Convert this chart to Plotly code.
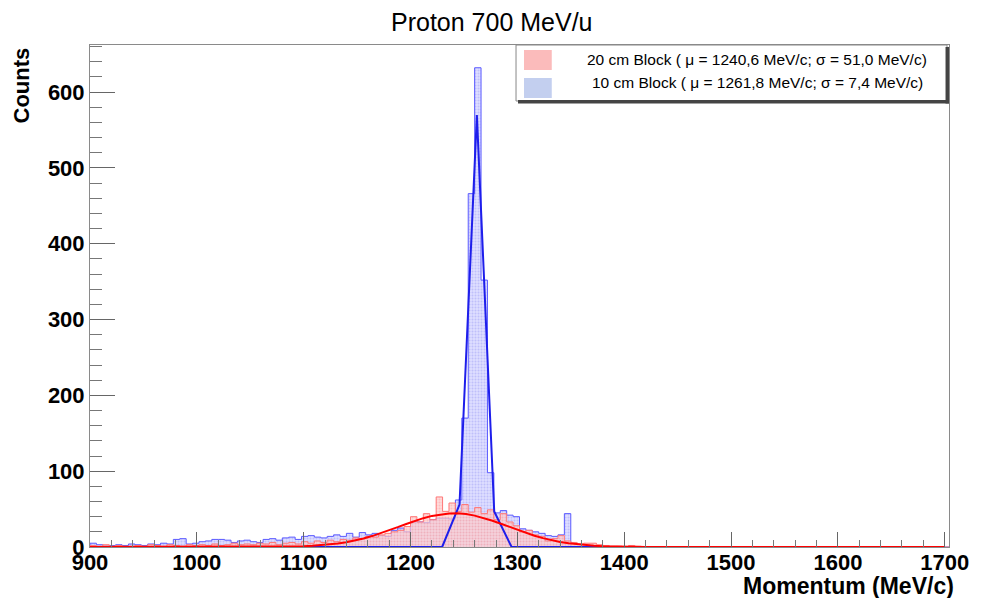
import numpy as np
import plotly.graph_objects as go

# ---------------- data ----------------
bin_start = 900.0
bin_width = 6.0
n_bins = 134

blue_counts = [5, 3, 2, 2, 3, 2, 4, 3, 2, 4,
               3, 5, 4, 10, 11, 4, 5,
               7, 8, 10, 10, 9, 6, 8,
               9, 7, 6, 10, 11, 9, 12,
               13, 10, 14, 15, 13, 12, 14,
               16, 14, 18, 13, 19, 16, 18,
               15, 14, 22, 25, 20, 33, 33,
               32, 36, 38, 38, 37,
               62, 170, 466, 632, 352, 98, 45, 48, 42, 40, 24, 22, 20, 18, 15, 14, 16, 44,
               1, 0, 1] + [0] * 56

red_counts = [2, 1, 3, 1, 2, 1, 1, 2, 1, 3,
              2, 1, 3, 2, 1, 3, 2,
              3, 2, 4, 2, 3, 5, 3,
              4, 3, 5, 4, 6, 3, 5,
              6, 4, 7, 5, 8, 6, 9,
              7, 10, 9, 12, 11, 14, 13,
              16, 18, 20,
              22, 27, 40, 33, 44, 36, 66, 47, 58, 47,
              56, 46, 52, 44, 49, 36, 44, 33, 28, 20,
              22, 16, 14, 8, 11, 15, 8, 6, 4, 5,
              5, 3, 2, 1, 1, 0, 2, 1] + [0] * 48

# Gaussian fit parameters (from legend) and fitted amplitudes
red_fit = dict(mu=1240.6, sigma=51.0, amp=44.5, xmin=900.0, xmax=1700.0, npts=101)
blue_fit = dict(mu=1261.8, sigma=7.4, amp=570.0, xmin=1099.6, xmax=1392.1, npts=19)

legend_labels = ["20 cm Block ( \u03bc = 1240,6 MeV/c; \u03c3 = 51,0 MeV/c)",
                 "10 cm Block ( \u03bc = 1261,8 MeV/c; \u03c3 = 7,4 MeV/c)"]
title_text = "Proton 700 MeV/u"
x_title = "Momentum (MeV/c)"
y_title = "Counts"

# ---------------- helpers ----------------
edges = bin_start + bin_width * np.arange(n_bins + 1)


def step(counts):
    xs = [edges[0]] + list(edges[:-1]) + [edges[-1]]
    ys = [0] + list(counts) + [counts[-1]]
    return xs, ys


def gauss(p):
    x = np.linspace(p["xmin"], p["xmax"], p["npts"])
    return x, p["amp"] * np.exp(-0.5 * ((x - p["mu"]) / p["sigma"]) ** 2)


# plot-area geometry in pixels
L, R, T, B = 90, 955, 45, 547
W, H = 981, 598


def xp(px):
    return (px - L) / (R - L)


def yp(py):
    return (B - py) / (B - T)


FONT = "Liberation Sans, Arial, Helvetica, sans-serif"

fig = go.Figure()

bx, by = step(blue_counts)
fig.add_trace(go.Scatter(
    x=bx, y=by, mode="lines", line=dict(shape="hv", color="rgb(90,90,255)", width=1),
    fill="tozeroy", fillcolor="rgba(205,205,255,0.75)",
    fillpattern=dict(shape=".", fgcolor="rgba(130,130,240,0.7)", bgcolor="rgba(210,210,255,0.75)",
                     size=3, solidity=0.35),
    showlegend=False, hoverinfo="skip"))

rx, ry = step(red_counts)
fig.add_trace(go.Scatter(
    x=rx, y=ry, mode="lines", line=dict(shape="hv", color="rgb(255,120,120)", width=1),
    fill="tozeroy", fillcolor="rgba(255,200,200,0.7)",
    fillpattern=dict(shape=".", fgcolor="rgba(245,120,120,0.6)", bgcolor="rgba(255,205,205,0.7)",
                     size=3, solidity=0.35),
    showlegend=False, hoverinfo="skip"))

gx, gy = gauss(blue_fit)
fig.add_trace(go.Scatter(x=gx, y=gy, mode="lines", line=dict(color="rgb(30,30,235)", width=2),
                         showlegend=False, hoverinfo="skip"))
gx, gy = gauss(red_fit)
fig.add_trace(go.Scatter(x=gx, y=gy, mode="lines", line=dict(color="rgb(255,0,0)", width=2),
                         showlegend=False, hoverinfo="skip"))

axis_common = dict(showgrid=False, zeroline=False, showline=True, linecolor="#8a8a8a", linewidth=1,
                   mirror=True, ticks="inside", tickcolor="#666", tickwidth=1)

fig.update_xaxes(range=[900, 1704], tick0=900, dtick=100, ticklen=15, ticklabelstandoff=-4,
                 tickfont=dict(family=FONT, size=22, color="black", weight="bold"),
                 minor=dict(dtick=20, ticks="inside", ticklen=7, tickcolor="#777", tickwidth=1),
                 **axis_common)
fig.update_yaxes(range=[0, 662], tick0=0, dtick=100, ticklen=25,
                 tickfont=dict(family=FONT, size=22, color="black", weight="bold"),
                 minor=dict(dtick=20, ticks="inside", ticklen=12, tickcolor="#777", tickwidth=1),
                 **axis_common)

shapes = []
# legend box
shapes.append(dict(type="rect", xref="paper", yref="paper", x0=xp(519), x1=xp(953), y0=yp(101), y1=yp(45),
                   line=dict(color="#888", width=1), fillcolor="white", layer="above"))
# legend shadow (bottom and right)
shapes.append(dict(type="rect", xref="paper", yref="paper", x0=xp(521), x1=xp(955), y0=yp(103.5), y1=yp(100),
                   line=dict(width=0), fillcolor="#444", layer="above"))
shapes.append(dict(type="rect", xref="paper", yref="paper", x0=xp(951.5), x1=xp(955), y0=yp(103.5), y1=yp(47),
                   line=dict(width=0), fillcolor="#444", layer="above"))
# legend symbols
shapes.append(dict(type="rect", xref="paper", yref="paper", x0=xp(527), x1=xp(555), y0=yp(70), y1=yp(50),
                   line=dict(width=0), fillcolor="rgba(250,170,170,0.8)", layer="above"))
shapes.append(dict(type="rect", xref="paper", yref="paper", x0=xp(527), x1=xp(555), y0=yp(98), y1=yp(78),
                   line=dict(width=0), fillcolor="rgba(180,195,235,0.8)", layer="above"))

annotations = [
    dict(text=title_text, xref="paper", yref="paper", x=xp(495), y=yp(22), xanchor="center", yanchor="middle",
         showarrow=False, font=dict(family=FONT, size=25, color="black")),
    dict(text=x_title, xref="paper", yref="paper", x=xp(962), y=yp(586), xanchor="right", yanchor="middle",
         showarrow=False, font=dict(family=FONT, size=23, color="black", weight="bold")),
    dict(text=y_title, xref="paper", yref="paper", x=xp(21), y=yp(45), xanchor="center", yanchor="top",
         textangle=-90, showarrow=False, font=dict(family=FONT, size=22, color="black", weight="bold")),
    dict(text=legend_labels[0], xref="paper", yref="paper", x=xp(762), y=yp(60), xanchor="center",
         yanchor="middle", showarrow=False, font=dict(family=FONT, size=15.5, color="black")),
    dict(text=legend_labels[1], xref="paper", yref="paper", x=xp(762), y=yp(82), xanchor="center",
         yanchor="middle", showarrow=False, font=dict(family=FONT, size=15.5, color="black")),
]

fig.update_layout(width=W, height=H, margin=dict(l=L, r=W - R, t=T, b=H - B),
                  plot_bgcolor="white", paper_bgcolor="white", shapes=shapes, annotations=annotations,
                  showlegend=False)

fig.write_html("out.html")
